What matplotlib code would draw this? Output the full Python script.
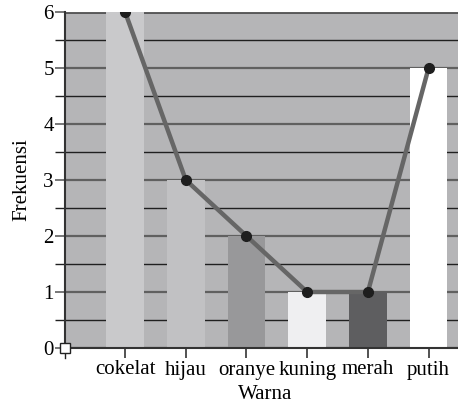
import matplotlib.pyplot as plt
from matplotlib.ticker import MultipleLocator

warna = ['cokelat', 'hijau', 'oranye', 'kuning', 'merah', 'putih']
frekuensi = [6, 3, 2, 1, 1, 5]
bar_colors = ['#c9c9cb', '#c1c1c3', '#98989a', '#efeff1', '#5e5e60', '#ffffff']

plt.rcParams['font.family'] = ['Liberation Serif', 'DejaVu Serif']
plt.rcParams['font.size'] = 15

fig = plt.figure(figsize=(4.58, 4.08), dpi=100)
ax = fig.add_axes([65 / 458, 60 / 408, 400 / 458, 336 / 408])
ax.set_facecolor('#b5b5b7')

x = list(range(len(warna)))
ax.bar(x, frekuensi, width=0.62, color=bar_colors, zorder=2)
ax.plot(x, frekuensi, color='#666666', lw=3.2, zorder=3)
ax.plot(x, frekuensi, 'o', color='#1e1e1e', ms=7, zorder=4)

ax.set_xlim(-0.99, 5.6)
ax.set_ylim(0, 6)
ax.yaxis.set_major_locator(MultipleLocator(1))
ax.yaxis.set_minor_locator(MultipleLocator(0.5))
ax.grid(axis='y', which='major', color='#606060', lw=1.6, zorder=1)
ax.grid(axis='y', which='minor', color='#202020', lw=1.0, zorder=1)
ax.tick_params(axis='y', which='major', length=7, width=1.2, color='#606060', pad=1)
ax.tick_params(axis='y', which='minor', length=7, width=1.0, color='#202020')
ax.set_xticks(x)
ax.set_xticklabels(warna)
ax.tick_params(axis='x', length=7, width=1.2, color='#333333', pad=2)
ax.tick_params(labelsize=15)

for s in ['top', 'right']:
    ax.spines[s].set_visible(False)
ax.spines['left'].set_color('#333333')
ax.spines['left'].set_linewidth(1.5)
ax.spines['bottom'].set_color('#333333')
ax.spines['bottom'].set_linewidth(1.5)

# top line at 6
ax.axhline(6, color='#3a3a3a', lw=1.8, zorder=1)
# small square at origin
ax.plot([-0.99], [0], 's', ms=7, mfc='white', mec='#222222', mew=1, clip_on=False, zorder=5)
ax.plot([-0.99, -0.99], [0, -0.18], color='#222222', lw=1, clip_on=False, zorder=4)

ax.set_xlabel('Warna', fontsize=15, labelpad=4)
ax.set_ylabel('Frekuensi', fontsize=15, labelpad=9)

fig.savefig('out.png', dpi=100)
